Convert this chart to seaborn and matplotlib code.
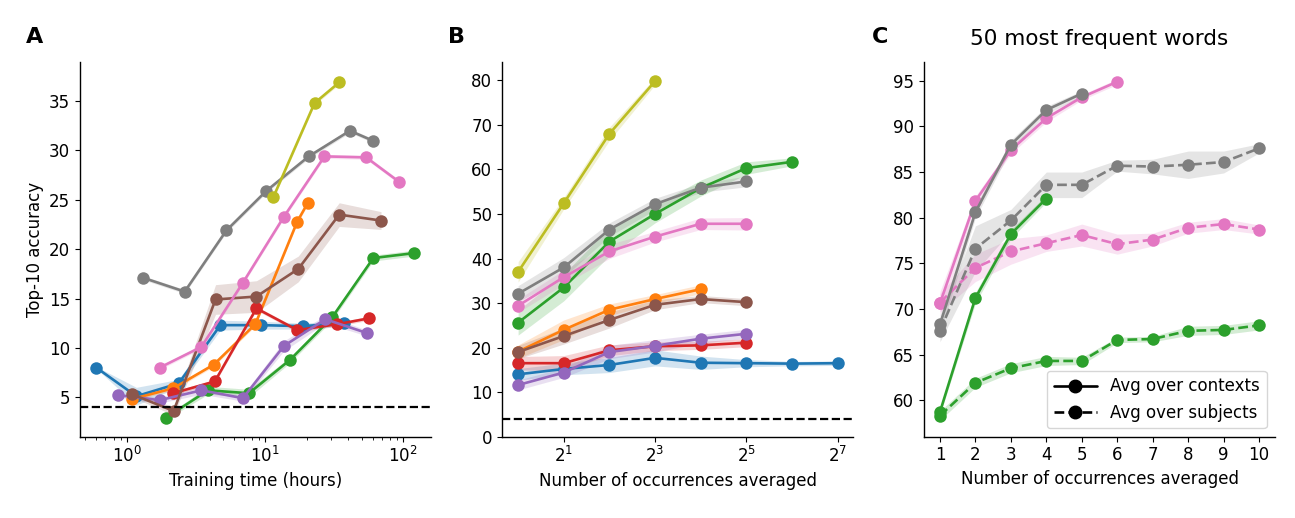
import numpy as np
import matplotlib
matplotlib.use("Agg")
import matplotlib.pyplot as plt
import matplotlib.ticker as mticker
from matplotlib.lines import Line2D
import seaborn as sns

# === DADOS ===

# Painel A: acurácia top-10 vs tempo de treino (horas)
horas_azul = [0.6, 1.17, 2.37, 4.75, 9.4, 18.8, 37.5]
acc_azul = [8.0, 5.1, 6.4, 12.3, 12.3, 12.2, 12.5]
err_azul = [0.1, 0.9, 0.4, 0.5, 0.4, 0.3, 0.3]

horas_laranja = [1.08, 2.16, 4.25, 8.5, 17.1, 20.4]
acc_laranja = [4.8, 5.9, 8.3, 12.4, 22.8, 24.7]
err_laranja = [0.2, 0.2, 0.2, 0.2, 0.2, 0.2]

horas_verde = [1.91, 3.86, 7.64, 15.2, 30.6, 60.7, 120]
acc_verde = [2.9, 5.7, 5.4, 8.8, 13.1, 19.1, 19.6]
err_verde = [0.2, 0.4, 0.4, 0.3, 0.3, 0.3, 0.3]

horas_vermelho = [2.16, 4.33, 8.66, 17.1, 33.4, 56.9]
acc_vermelho = [5.4, 6.6, 14.0, 11.8, 12.4, 13.0]
err_vermelho = [0.2, 0.2, 0.2, 0.2, 0.2, 0.2]

horas_roxo = [0.865, 1.73, 3.46, 6.91, 13.7, 27.3, 54.6]
acc_roxo = [5.2, 4.7, 5.7, 4.9, 10.2, 12.9, 11.5]
err_roxo = [0.2, 0.3, 0.4, 0.3, 0.5, 0.4, 0.3]

horas_marrom = [1.09, 2.18, 4.38, 8.66, 17.4, 34.4, 69]
acc_marrom = [5.3, 3.6, 14.9, 15.2, 18.0, 23.5, 22.9]
err_marrom = [0.3, 0.4, 1.5, 1.6, 1.3, 1.2, 0.9]

horas_rosa = [1.73, 3.46, 6.91, 13.7, 26.9, 53.9, 93.7]
acc_rosa = [8.0, 10.1, 16.6, 23.3, 29.4, 29.3, 26.8]
err_rosa = [0.2, 0.2, 0.2, 0.2, 0.2, 0.2, 0.2]

horas_cinza = [1.31, 2.62, 5.25, 10.2, 20.7, 41.1, 60]
acc_cinza = [17.1, 15.7, 21.9, 25.9, 29.4, 32.0, 31.0]
err_cinza = [0.2, 0.2, 0.2, 0.2, 0.2, 0.2, 0.2]

horas_oliva = [11.5, 22.8, 34.4]
acc_oliva = [25.3, 34.8, 36.9]
err_oliva = [0.2, 0.2, 0.2]

# Painel B: acurácia vs número de ocorrências promediadas
ocorr = [1, 2, 4, 8, 16, 32, 64, 128]
b_azul = [14.0, 15.2, 16.1, 17.7, 16.6, 16.5, 16.4, 16.5]
b_err_azul = [1.3, 1.3, 1.7, 1.8, 1.5, 0.8, 0.5, 0.5]
b_laranja = [19.1, 24.0, 28.5, 30.9, 33.1]
b_err_laranja = [1.5, 2.2, 1.3, 1.0, 1.0]
b_verde = [25.6, 33.5, 43.8, 50.0, 55.8, 60.3, 61.7]
b_err_verde = [2.8, 3.0, 3.2, 2.0, 1.8, 1.4, 0.9]
b_vermelho = [16.5, 16.5, 19.4, 20.3, 20.5, 21.1]
b_err_vermelho = [1.5, 1.7, 1.2, 1.0, 0.9, 0.9]
b_roxo = [11.6, 14.4, 19.0, 20.4, 22.0, 23.1]
b_err_roxo = [1.1, 1.1, 1.5, 1.4, 1.0, 1.0]
b_marrom = [19.0, 22.6, 26.2, 29.6, 30.9, 30.2]
b_err_marrom = [1.5, 1.8, 1.8, 1.1, 0.8, 0.8]
b_rosa = [29.4, 35.8, 41.6, 44.9, 47.8, 47.8]
b_err_rosa = [1.5, 1.6, 1.6, 1.2, 1.3, 1.4]
b_cinza = [32.1, 38.0, 46.5, 52.2, 55.9, 57.3]
b_err_cinza = [1.8, 2.2, 1.5, 1.3, 1.0, 1.2]
b_oliva = [37.0, 52.4, 68.0, 79.8]
b_err_oliva = [2.3, 1.3, 1.5, 0.8]

# Painel C: 50 palavras mais frequentes
ocorr_c = [1, 2, 3, 4, 5, 6, 7, 8, 9, 10]
ctx_rosa = [70.6, 81.85, 87.4, 90.9, 93.2, 94.9]
ctx_err_rosa = [1.3, 0.5, 0.4, 0.4, 0.3, 0.3]
ctx_cinza = [68.3, 80.6, 88.0, 91.8, 93.6]
ctx_err_cinza = [1.0, 0.6, 0.5, 0.4, 0.3]
ctx_verde = [58.7, 71.2, 78.2, 82.1]
ctx_err_verde = [0.3, 0.6, 0.5, 0.4]
sub_cinza = [67.6, 76.6, 79.7, 83.6, 83.6, 85.7, 85.6, 85.8, 86.1, 87.6]
sub_err_cinza = [1.2, 2.5, 1.2, 1.4, 1.4, 0.6, 0.8, 1.5, 1.2, 0.5]
sub_rosa = [70.7, 74.5, 76.3, 77.2, 78.1, 77.1, 77.6, 78.9, 79.3, 78.7]
sub_err_rosa = [1.0, 1.5, 1.4, 0.9, 1.2, 1.1, 0.7, 0.6, 0.6, 0.5]
sub_verde = [58.3, 61.9, 63.5, 64.3, 64.3, 66.6, 66.7, 67.6, 67.7, 68.2]
sub_err_verde = [0.5, 0.5, 0.5, 0.5, 0.4, 0.3, 0.3, 0.5, 0.5, 0.5]

nivel_acaso = 4

# === ESTILO ===
sns.set_style("ticks")
plt.rcParams['font.family'] = ['DejaVu Sans']
plt.rcParams['font.size'] = 12
plt.rcParams['axes.labelsize'] = 12
plt.rcParams['xtick.labelsize'] = 12
plt.rcParams['ytick.labelsize'] = 12
plt.rcParams['axes.linewidth'] = 1.0
plt.rcParams['axes.edgecolor'] = 'black'
plt.rcParams['axes.labelcolor'] = 'black'
plt.rcParams['text.color'] = 'black'
plt.rcParams['xtick.color'] = 'black'
plt.rcParams['ytick.color'] = 'black'

pal = sns.color_palette("tab10")
c_azul, c_laranja, c_verde, c_vermelho, c_roxo, c_marrom, c_rosa, c_cinza, c_oliva = pal[:9]

TAM_MARC = 9


# Função: desenha uma curva com marcadores e faixa de erro.
def curva(ax, x, y, err, cor, estilo='-'):
    x = np.asarray(x)[:len(y)]
    y = np.asarray(y)
    err = np.asarray(err)
    ax.fill_between(x, y - err, y + err, color=cor, alpha=0.2, lw=0)
    sns.lineplot(x=x, y=y, ax=ax, color=cor, marker='o', markersize=TAM_MARC,
                 markeredgecolor=cor, markeredgewidth=0, linewidth=1.9,
                 linestyle=estilo, errorbar=None)


fig, axes = plt.subplots(1, 3, figsize=(12.95, 5.18), dpi=100)
fig.subplots_adjust(left=0.0618, right=0.9846, bottom=0.157, top=0.881, wspace=0.202)

# Gráfico A
ax = axes[0]
series_a = [
    (horas_azul, acc_azul, err_azul, c_azul),
    (horas_laranja, acc_laranja, err_laranja, c_laranja),
    (horas_verde, acc_verde, err_verde, c_verde),
    (horas_vermelho, acc_vermelho, err_vermelho, c_vermelho),
    (horas_roxo, acc_roxo, err_roxo, c_roxo),
    (horas_marrom, acc_marrom, err_marrom, c_marrom),
    (horas_rosa, acc_rosa, err_rosa, c_rosa),
    (horas_cinza, acc_cinza, err_cinza, c_cinza),
    (horas_oliva, acc_oliva, err_oliva, c_oliva),
]
for h, a, e, c in series_a:
    curva(ax, h, a, e, c)
ax.axhline(nivel_acaso, color='black', linestyle='--', linewidth=1.6)
ax.set_xscale('log')
ax.set_xlim(0.458, 159)
ax.set_ylim(1.0, 39.0)
ax.set_yticks([5, 10, 15, 20, 25, 30, 35])
ax.set_xlabel('Training time (hours)')
ax.set_ylabel('Top-10 accuracy')

# Gráfico B
ax = axes[1]
series_b = [
    (b_azul, b_err_azul, c_azul),
    (b_laranja, b_err_laranja, c_laranja),
    (b_verde, b_err_verde, c_verde),
    (b_vermelho, b_err_vermelho, c_vermelho),
    (b_roxo, b_err_roxo, c_roxo),
    (b_marrom, b_err_marrom, c_marrom),
    (b_rosa, b_err_rosa, c_rosa),
    (b_cinza, b_err_cinza, c_cinza),
    (b_oliva, b_err_oliva, c_oliva),
]
for v, e, c in series_b:
    curva(ax, ocorr, v, e, c)
ax.axhline(nivel_acaso, color='black', linestyle='--', linewidth=1.6)
ax.set_xscale('log', base=2)
ax.set_xlim(0.783, 162)
ax.set_xticks([2, 8, 32, 128])
ax.xaxis.set_major_formatter(mticker.LogFormatterMathtext(base=2))
ax.xaxis.set_minor_locator(mticker.NullLocator())
ax.set_ylim(0, 84.2)
ax.set_yticks(range(0, 81, 10))
ax.set_xlabel('Number of occurrences averaged')
ax.set_ylabel('')

# Gráfico C
ax = axes[2]
curva(ax, ocorr_c, sub_verde, sub_err_verde, c_verde, '--')
curva(ax, ocorr_c, sub_rosa, sub_err_rosa, c_rosa, '--')
curva(ax, ocorr_c, sub_cinza, sub_err_cinza, c_cinza, '--')
curva(ax, ocorr_c, ctx_verde, ctx_err_verde, c_verde)
curva(ax, ocorr_c, ctx_rosa, ctx_err_rosa, c_rosa)
curva(ax, ocorr_c, ctx_cinza, ctx_err_cinza, c_cinza)
ax.set_xlim(0.55, 10.45)
ax.set_ylim(56.0, 97.1)
ax.set_xticks(ocorr_c)
ax.set_yticks(range(60, 96, 5))
ax.set_xlabel('Number of occurrences averaged')
ax.set_ylabel('')
ax.set_title('50 most frequent words', fontsize=15.5, pad=12)
handles = [
    Line2D([], [], color='black', marker='o', markersize=TAM_MARC, linewidth=1.9, linestyle='-'),
    Line2D([], [], color='black', marker='o', markersize=TAM_MARC, linewidth=1.9, linestyle='--'),
]
ax.legend(handles, ['Avg over contexts', 'Avg over subjects'], loc='lower right',
          fontsize=12, handlelength=2.6)

for a in axes:
    sns.despine(ax=a)

# Letras dos painéis
for letra, xpos in zip(['A', 'B', 'C'], [26, 448, 872]):
    fig.text(xpos / 1295, 1 - 42.7 / 518, letra, fontsize=16, fontweight='bold',
             ha='left', va='baseline')

plt.savefig('out.png', dpi=100)
plt.close()
